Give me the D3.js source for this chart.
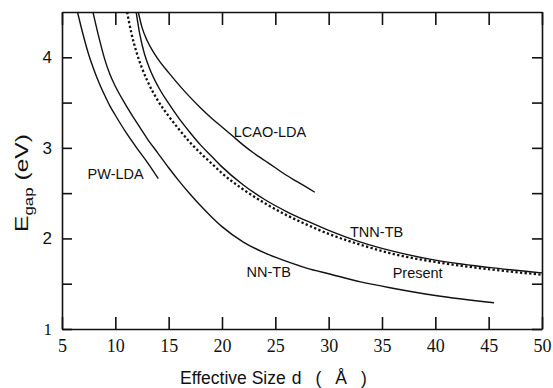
<!DOCTYPE html>
<meta charset="utf-8">
<style>
body { margin: 0; background: #fff; }
.curve { fill: none; stroke: #111; stroke-width: 1.4px; }
.dotted { stroke-dasharray: 2.3,2.3; stroke-width: 2.3px; }
.axis path, .axis line { stroke: #111; stroke-width: 1.6px; }
.label { font-family: Arial, "Liberation Sans", sans-serif; font-size: 14.5px; fill: #111; }
.title { font-family: Arial, "Liberation Sans", sans-serif; fill: #111; }
</style>
<body>
<script src="https://d3js.org/d3.v7.min.js"></script>
<script>

// tick values
var xTicks = [5, 10, 15, 20, 25, 30, 35, 40, 45, 50];
var yTicks = [1, 1.5, 2, 2.5, 3, 3.5, 4];

// curves: effective size d (A) and gap (eV)
var pwD = [6.45, 7, 7.5, 8, 8.5, 9, 9.5, 10, 11, 12, 13, 14.03];
var pwE = [4.5, 4.24, 4.03, 3.86, 3.71, 3.58, 3.46, 3.36, 3.17, 3.0, 2.84, 2.66];

var nnD = [7.9, 8.5, 9, 9.5, 10, 11, 12, 13, 14, 15, 16, 17, 18, 19, 20, 22, 24, 26, 28, 30, 33, 36, 40, 45.5];
var nnE = [4.5, 4.2, 3.98, 3.81, 3.68, 3.47, 3.28, 3.1, 2.94, 2.78, 2.63, 2.49, 2.36, 2.24, 2.13, 1.96, 1.84, 1.75, 1.67, 1.61, 1.52, 1.45, 1.37, 1.29];

var presentD = [11.1, 11.5, 12, 12.5, 13, 14, 15, 16, 17, 18, 19, 20, 22, 24, 26, 28, 30, 33, 36, 40, 45, 50];
var presentE = [4.5, 4.27, 4.05, 3.88, 3.74, 3.52, 3.35, 3.2, 3.06, 2.94, 2.83, 2.72, 2.54, 2.39, 2.26, 2.15, 2.05, 1.93, 1.83, 1.74, 1.66, 1.6];

var tnnD = [11.95, 12.3, 12.7, 13.2, 14, 15, 16, 17, 18, 19, 20, 22, 24, 26, 28, 30, 33, 36, 40, 45, 50];
var tnnE = [4.5, 4.25, 4.05, 3.88, 3.68, 3.49, 3.32, 3.17, 3.03, 2.91, 2.79, 2.59, 2.43, 2.3, 2.19, 2.09, 1.96, 1.86, 1.76, 1.68, 1.62];

var lcaoD = [12.15, 12.5, 13, 13.5, 14, 15, 16, 17, 18, 19, 20, 21, 22, 23, 24, 25, 26, 27, 28, 28.7];
var lcaoE = [4.5, 4.33, 4.18, 4.07, 3.98, 3.83, 3.69, 3.56, 3.44, 3.33, 3.23, 3.13, 3.03, 2.94, 2.86, 2.78, 2.7, 2.63, 2.56, 2.51];

var labels = ["PW-LDA", "NN-TB", "LCAO-LDA", "TNN-TB", "Present"];
var labelD = [7.4, 22.3, 21.1, 32.0, 36.0];
var labelE = [2.66, 1.57, 3.12, 2.02, 1.56];

// dimensions
var margin = {top: 12, right: 11, bottom: 59, left: 62},
    width = 553 - margin.left - margin.right,
    height = 388 - margin.top - margin.bottom;

var x = d3.scaleLinear().domain([5, 50]).range([0, width]);
var y = d3.scaleLinear().domain([1, 4.5]).range([height, 0]);

var svg = d3.select("body").append("svg")
    .attr("width", 553)
    .attr("height", 388)
  .append("g")
    .attr("transform", "translate(" + margin.left + "," + margin.top + ")");

function zip(ds, es) {
  return ds.map(function(d, i) { return [d, es[i]]; });
}

var line = d3.line()
    .x(function(d) { return x(d[0]); })
    .y(function(d) { return y(d[1]); })
    .curve(d3.curveMonotoneX);

// curves
[[pwD, pwE], [nnD, nnE], [tnnD, tnnE], [lcaoD, lcaoE]].forEach(function(c) {
  svg.append("path")
      .datum(zip(c[0], c[1]))
      .attr("class", "curve")
      .attr("d", line);
});

svg.append("path")
    .datum(zip(presentD, presentE))
    .attr("class", "curve dotted")
    .attr("d", line);

// axes, ticks pointing inwards
svg.append("g")
    .attr("class", "axis")
    .attr("transform", "translate(0," + height + ")")
    .call(d3.axisBottom(x).tickValues(xTicks).tickSizeInner(-12).tickSizeOuter(0).tickPadding(10))
    .selectAll("text")
    .style("font-family", "'Liberation Serif', 'Times New Roman', serif")
    .style("font-size", "18px")
    .attr("fill", "#111");

svg.append("g")
    .attr("class", "axis")
    .call(d3.axisTop(x).tickValues(xTicks).tickSizeInner(-13).tickSizeOuter(0).tickFormat(""));

svg.append("g")
    .attr("class", "axis")
    .call(d3.axisLeft(y).tickValues(yTicks).tickSizeInner(-10).tickSizeOuter(0).tickPadding(10)
      .tickFormat(function(d) { return d % 1 === 0 ? d : ""; }))
    .selectAll("text")
    .style("font-family", function(d) { return d === 1 ? "'Liberation Serif', serif" : "Arial, 'Liberation Sans', sans-serif"; })
    .style("font-size", "17px")
    .attr("fill", "#111");

svg.append("g")
    .attr("class", "axis")
    .attr("transform", "translate(" + width + ",0)")
    .call(d3.axisRight(y).tickValues(yTicks).tickSizeInner(-10).tickSizeOuter(0).tickFormat(""));

// curve labels
svg.selectAll(".label")
    .data(labels)
  .enter().append("text")
    .attr("class", "label")
    .attr("x", function(d, i) { return x(labelD[i]); })
    .attr("y", function(d, i) { return y(labelE[i]); })
    .text(function(d) { return d; });

// axis titles
var xt = svg.append("text")
    .attr("class", "title")
    .attr("x", 118)
    .attr("y", height + 55)
    .style("font-size", "17.5px");
xt.append("tspan").text("Effective Size");
xt.append("tspan").attr("dx", 6).text("d");
xt.append("tspan").attr("dx", 14).text("(");
xt.append("tspan").attr("dx", 14).text("Å");
xt.append("tspan").attr("dx", 14).text(")");

var yt = svg.append("text")
    .attr("class", "title")
    .attr("transform", "translate(-34,171) rotate(-90)")
    .attr("text-anchor", "middle")
    .attr("textLength", 98)
    .attr("lengthAdjust", "spacingAndGlyphs")
    .style("font-size", "19px");
yt.append("tspan").text("E");
yt.append("tspan").attr("dy", 5).style("font-size", "13px").text("gap");
yt.append("tspan").attr("dy", -5).text(" (eV)");

</script>
</body>
